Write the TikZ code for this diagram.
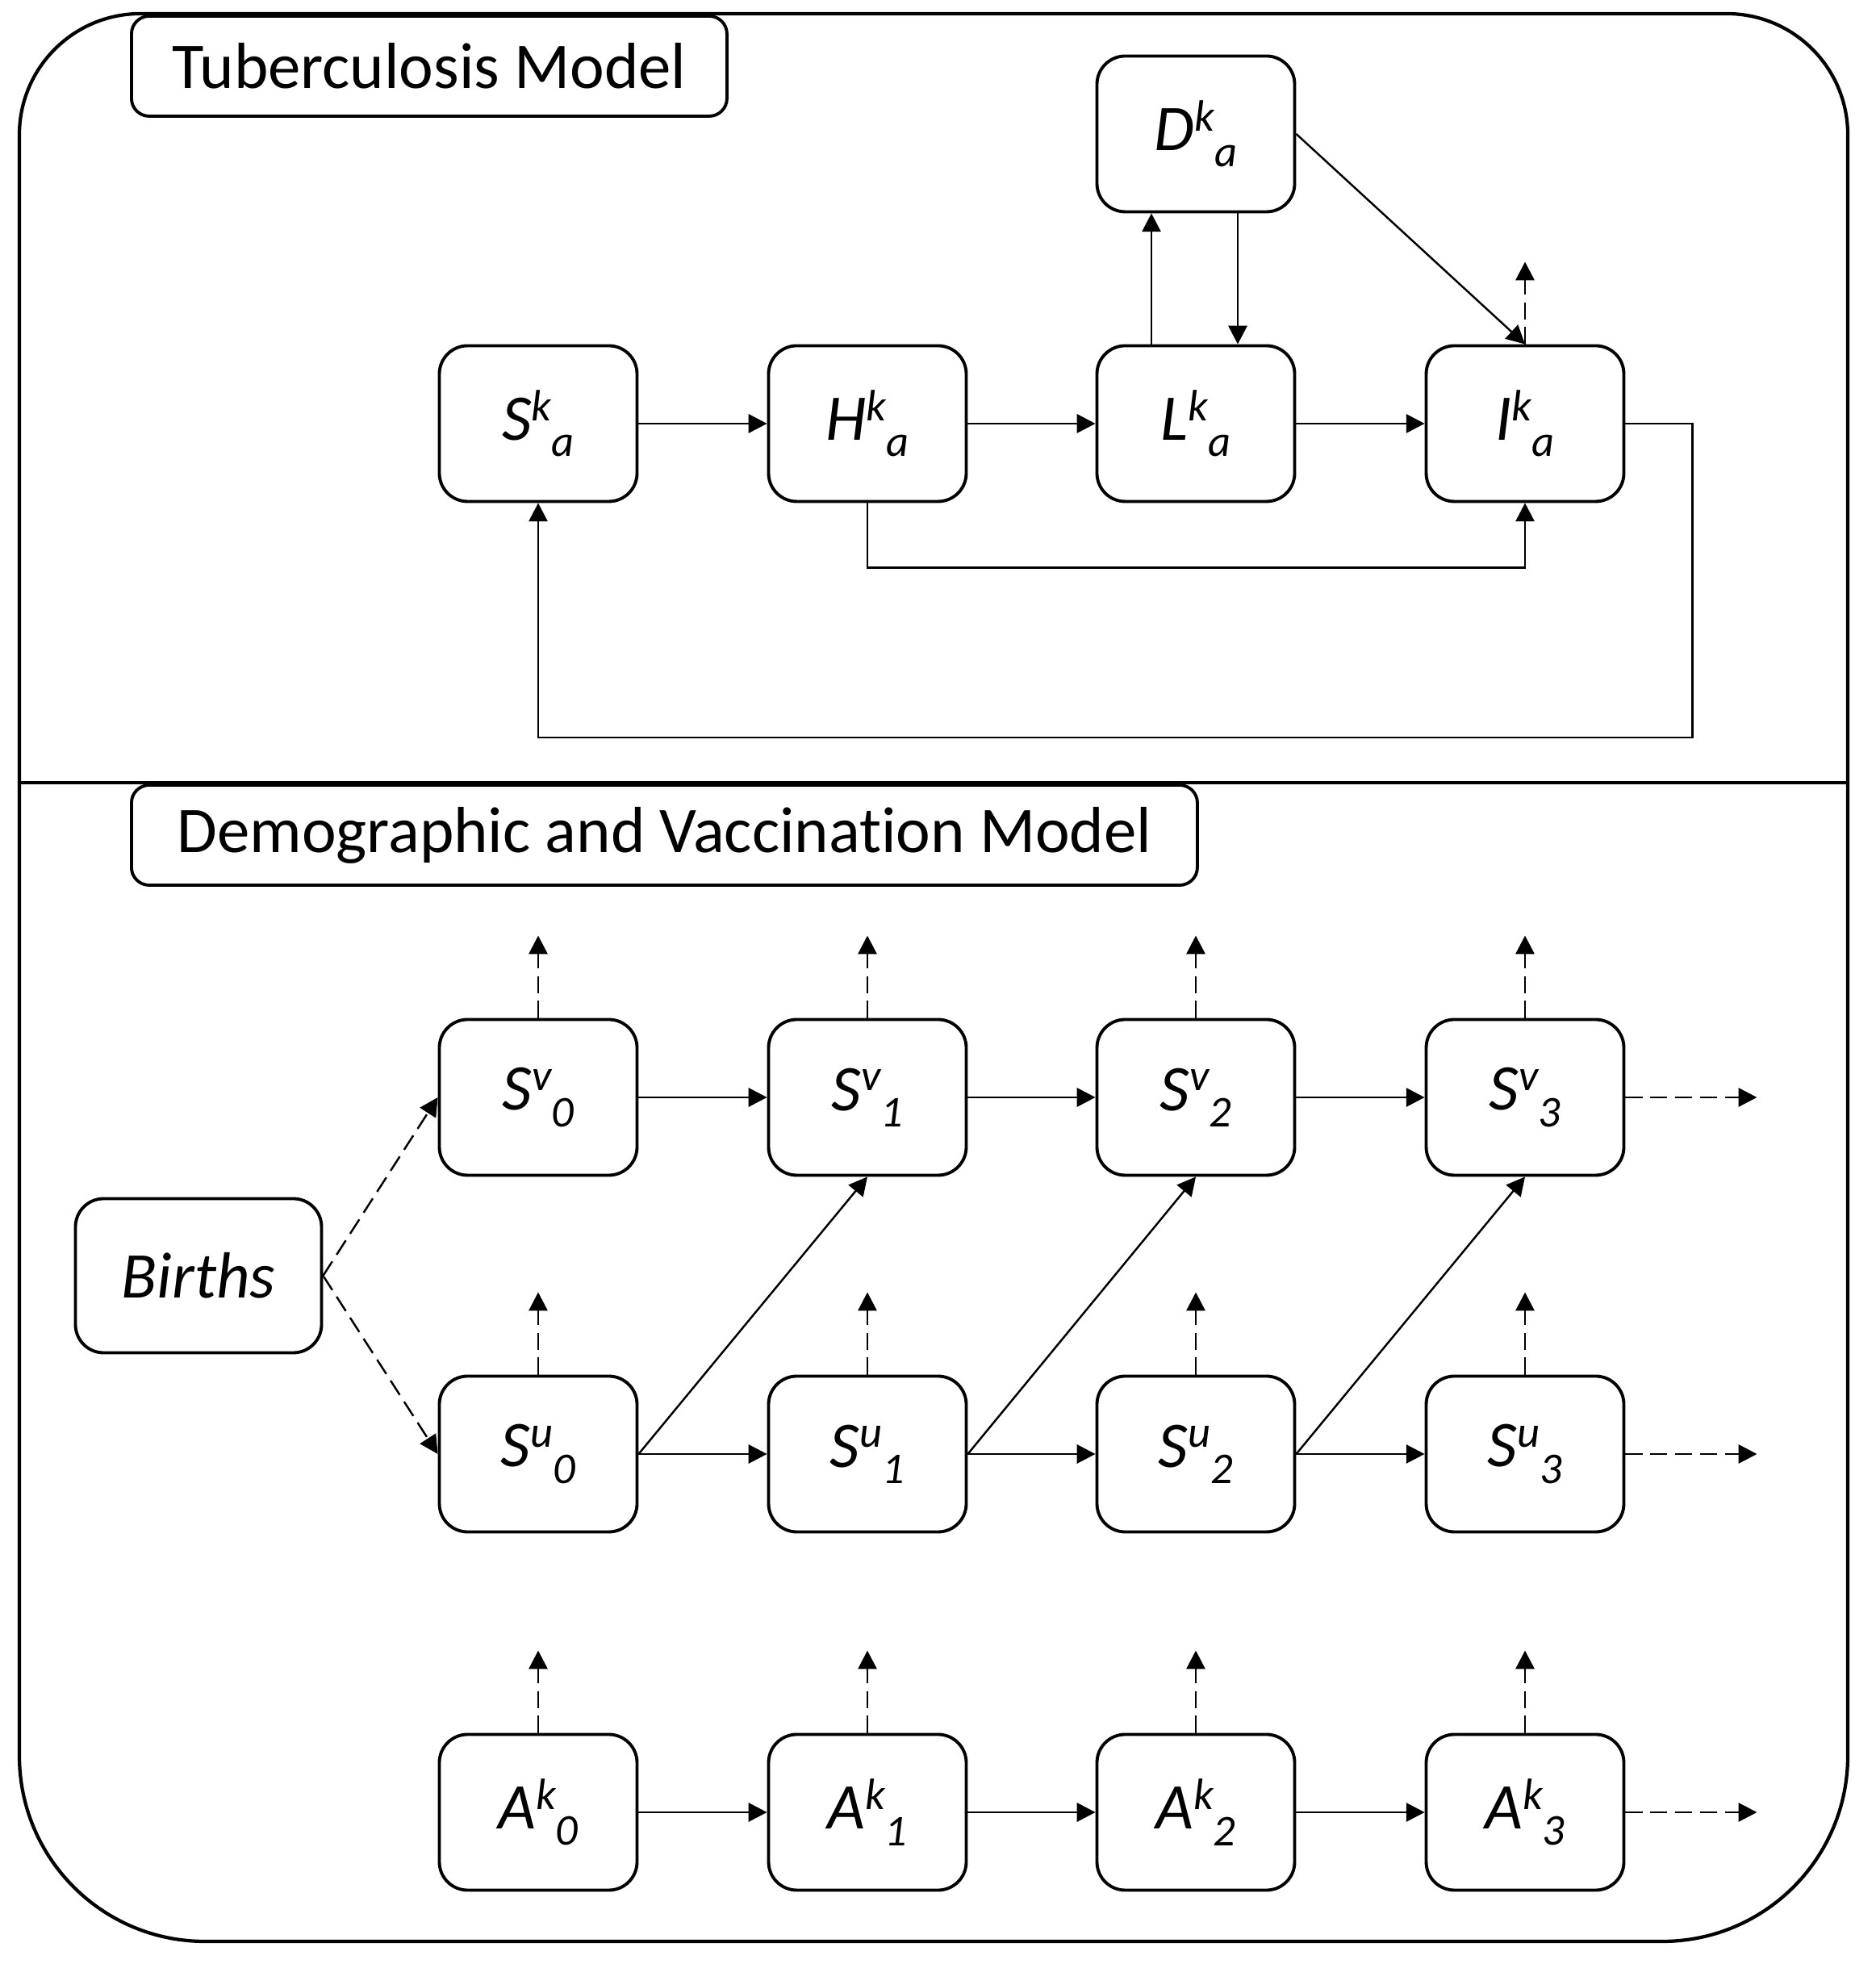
\documentclass[tikz,border=0pt]{standalone}
\usepackage{fontspec}
\setmainfont{Carlito}[Ligatures = NoCommon]
\usetikzlibrary{arrows.meta}

\newcommand{\comp}[3]{#1\raisebox{0.3em}{\fontsize{15.5}{15.5}\selectfont #2}\raisebox{-0.25em}{\fontsize{15.5}{15.5}\selectfont #3}}

\tikzset{
    box/.style = {draw, line width = 1.1pt, rounded corners = 0.35cm, minimum width = 2.45cm, minimum height = 1.93cm, inner sep = 0pt, font = \fontsize{23}{27}\selectfont\itshape},
    titlebox/.style = {draw, line width = 1.1pt, rounded corners = 0.22cm, minimum height = 1.24cm, inner sep = 0pt, anchor = west, font = \fontsize{23}{27}\selectfont},
    flow/.style = {line width = 0.7pt, arrows = -{Triangle[length = 6.5pt, width = 6.6pt]}},
    exit/.style = {flow, dash pattern = on 6pt off 2.8pt},
}

\begin{document}
\begin{tikzpicture}
        %   \draw [help lines] (0,0) grid (23,24);
        \useasboundingbox (0,0) rectangle (23.24,24.34);

        % frame
        \draw [line width = 1.2pt, rounded corners = 1.5cm] (0.24,14.64) -- (0.24,24.17) -- (22.90,24.17) -- (22.90,14.64);
        \draw [line width = 1.2pt, rounded corners = 2.3cm] (0.24,14.64) -- (0.24,0.28) -- (22.90,0.28) -- (22.90,14.64);
        \draw [line width = 1.2pt] (0.24,14.64) -- (22.90,14.64);

        \node [titlebox, minimum width = 7.38cm] (tbtitle) at (1.61,23.52) {Tuberculosis Model};
        \node [titlebox, minimum width = 13.21cm] (demtitle) at (1.61,13.99) {Demographic and Vaccination Model};

        % tuberculosis model
        \node [box] (S) at (6.67,19.09) {\comp{S}{k}{a}};
        \node [box] (H) at (10.75,19.09) {\comp{H}{k}{a}};
        \node [box] (L) at (14.82,19.09) {\comp{L}{k}{a}};
        \node [box] (I) at (18.90,19.09) {\comp{I}{k}{a}};
        \node [box] (D) at (14.82,22.68) {\comp{D}{k}{a}};

        \draw [flow] (S) -- (H);
        \draw [flow] (H) -- (L);
        \draw [flow] (L) -- (I);
        \draw [flow] ([xshift = -0.55cm]L.north) -- ([xshift = -0.55cm]D.south);
        \draw [flow] ([xshift = 0.52cm]D.south) -- ([xshift = 0.52cm]L.north);
        \draw [flow] (D.east) -- (I.north);
        \draw [exit] (I.north) -- ++(0,1.02);
        \draw [flow] (H.south) -- ++(0,-0.8) -| (I.south);
        \draw [flow] (I.east) -- ++(0.83,0) -- ++(0,-3.89) -| (S.south);

        % demographic and vaccination model
        \node [box, minimum width = 3.05cm, minimum height = 1.91cm] (Births) at (2.46,8.53) {Births};

        \foreach \i/\x in {0/6.67,1/10.75,2/14.82,3/18.90}
        {
            \node [box] (Sv\i) at (\x,10.74) {\comp{S}{v}{\i}};
            \node [box] (Su\i) at (\x,6.32) {\comp{S}{u}{\i}};
            \node [box] (A\i) at (\x,1.88) {\comp{A}{k}{\i}};

            \draw [exit] (Sv\i.north) -- ++(0,1.02);
            \draw [exit] (Su\i.north) -- ++(0,1.02);
            \draw [exit] (A\i.north) -- ++(0,1.02);
        }

        \foreach \i/\j in {0/1,1/2,2/3}
        {
            \draw [flow] (Sv\i) -- (Sv\j);
            \draw [flow] (Su\i) -- (Su\j);
            \draw [flow] (A\i) -- (A\j);
            \draw [flow] (Su\i.east) -- (Sv\j.south);
        }

        \draw [exit] (Births.east) -- (Sv0.west);
        \draw [exit] (Births.east) -- (Su0.west);

        \draw [exit] (Sv3.east) -- ++(1.63,0);
        \draw [exit] (Su3.east) -- ++(1.63,0);
        \draw [exit] (A3.east) -- ++(1.63,0);
    \end{tikzpicture}
\end{document}
